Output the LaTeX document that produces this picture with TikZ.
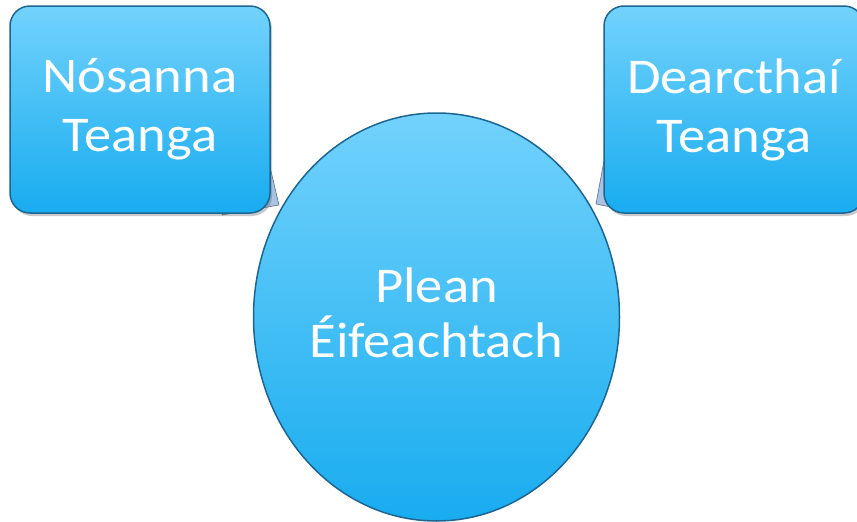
\documentclass[tikz,border=0pt]{standalone}
\usepackage{fontspec}
\setmainfont[FakeStretch=1.09]{Carlito}
\usetikzlibrary{calc,shadows,shapes.geometric}
\definecolor{topblue}{HTML}{72D2FC}
\definecolor{botblue}{HTML}{18ACEF}
\definecolor{edgeblue}{HTML}{1D6592}
\definecolor{wedgefill}{HTML}{A9C3E3}
\definecolor{wedgeedge}{HTML}{5C6F88}
\tikzset{
  boxstyle/.style={rectangle, rounded corners=20pt, draw=edgeblue, line width=1.5pt,
    top color=topblue, bottom color=botblue, minimum width=260pt, minimum height=207pt,
    text=white, align=center, font=\fontsize{50}{59}\selectfont,
    drop shadow={shadow xshift=2pt, shadow yshift=-3pt, opacity=0.35, fill=black!60}},
  circlestyle/.style={ellipse, draw=edgeblue, line width=1.5pt,
    top color=topblue, bottom color=botblue, minimum width=366pt, minimum height=408pt,
    inner sep=0pt, text=white, align=center, font=\fontsize{50}{55}\selectfont},
  wedgestyle/.style={fill=wedgefill, draw=wedgeedge, line width=0.6pt, line join=round}
}
\begin{document}
\begin{tikzpicture}[x=1pt,y=-1pt]
\useasboundingbox (0,0) rectangle (857,522);
% connectors (wedges) behind the boxes
\coordinate (lw1) at (266,150);
\coordinate (lw2) at (279,205);
\coordinate (lw3) at (222,215);
\coordinate (rw1) at (606,150);
\coordinate (rw2) at (596,204);
\coordinate (rw3) at (640,213);
\draw[wedgestyle] (lw1) -- (lw2) -- (lw3) -- cycle;
\draw[wedgestyle] (rw1) -- (rw2) -- (rw3) -- cycle;
\node[boxstyle] (L) at (140,109.5) {Nósanna\\Teanga};
\node[boxstyle] (R) at (734,109.5) {Dearcthaí\\Teanga};
\node[circlestyle] (C) at (436.5,317) {};
\node[text=white, align=center, font=\fontsize{50}{55}\selectfont] (CT) at (436.5,313) {Plean\\Éifeachtach};
\end{tikzpicture}
\end{document}
